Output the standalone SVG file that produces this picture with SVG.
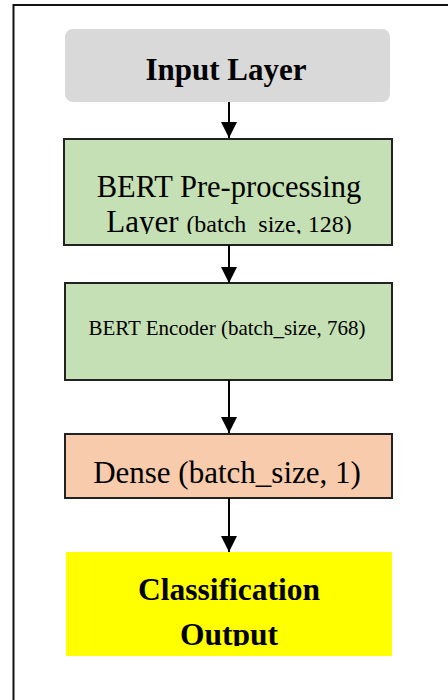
<svg xmlns="http://www.w3.org/2000/svg" width="448" height="700" viewBox="0 0 448 700">
  <style>
    .t { font-family: "Liberation Serif", "Times New Roman", serif; fill: #000; }
    .b { font-weight: bold; }
    .box { stroke: #222; stroke-width: 2; }
    .conn { stroke: #000; stroke-width: 2; fill: none; }
  </style>
  <defs>
    <marker id="arr" markerUnits="userSpaceOnUse" markerWidth="16" markerHeight="16" viewBox="0 0 16 16" refX="16" refY="8" orient="auto">
      <path d="M0,0 L16,8 L0,16 Z" fill="#000"/>
    </marker>
    <clipPath id="clipPre"><rect x="64" y="139" width="328" height="95"/></clipPath>
    <clipPath id="clipOut"><rect x="66" y="552" width="326" height="94"/></clipPath>
  </defs>
  <rect x="13.5" y="5" width="600" height="800" fill="none" stroke="#111" stroke-width="2"/>

  <g id="input">
    <rect x="65" y="29" width="325" height="73" rx="8" fill="#d9d9d9"/>
    <text class="t b" x="226" y="80" font-size="31" text-anchor="middle">Input Layer</text>
  </g>

  <g id="preprocess">
    <rect class="box" x="64" y="139" width="328" height="106" fill="#c5e0b4"/>
    <text class="t" x="229" y="197" font-size="30.5" text-anchor="middle">BERT Pre-processing</text>
    <g clip-path="url(#clipPre)">
      <text class="t" x="229" y="232" font-size="31" text-anchor="middle">Layer <tspan font-size="24">(batch_size, 128)</tspan></text>
    </g>
  </g>

  <g id="encoder">
    <rect class="box" x="65" y="283" width="327" height="97" fill="#c5e0b4"/>
    <text class="t" x="227" y="335" font-size="21" text-anchor="middle">BERT Encoder (batch_size, 768)</text>
  </g>

  <g id="dense">
    <rect class="box" x="65" y="434" width="327" height="64" fill="#f8cbad"/>
    <text class="t" x="227" y="483" font-size="31" text-anchor="middle">Dense (batch_size, 1)</text>
  </g>

  <g id="output">
    <rect x="66" y="552" width="326" height="104" fill="#ffff00"/>
    <g clip-path="url(#clipOut)">
      <text class="t b" x="229" y="600" font-size="31.5" text-anchor="middle">Classification</text>
      <text class="t b" x="229" y="645" font-size="31.5" text-anchor="middle">Output</text>
    </g>
  </g>

  <g id="connectors">
    <line class="conn" x1="229" y1="102" x2="229" y2="138" marker-end="url(#arr)"/>
    <line class="conn" x1="229" y1="245" x2="229" y2="283" marker-end="url(#arr)"/>
    <line class="conn" x1="229" y1="380" x2="229" y2="433" marker-end="url(#arr)"/>
    <line class="conn" x1="229" y1="498" x2="229" y2="552" marker-end="url(#arr)"/>
  </g>
</svg>
